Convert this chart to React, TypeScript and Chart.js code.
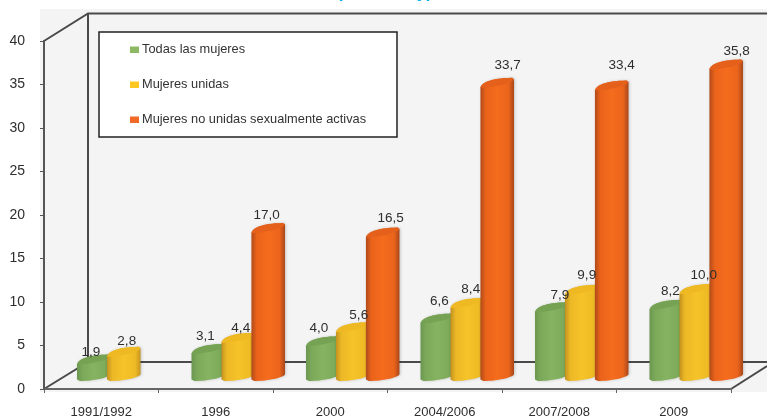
import React, { useEffect, useRef } from "react";
import { Chart, registerables } from "chart.js";

Chart.register(...registerables);

const categories = ["1991/1992", "1996", "2000", "2004/2006", "2007/2008", "2009"];
const todas = [1.9, 3.1, 4.0, 6.6, 7.9, 8.2];
const unidas = [2.8, 4.4, 5.6, 8.4, 9.9, 10.0];
const noUnidas = [null, 17.0, 16.5, 33.7, 33.4, 35.8];
const seriesNames = ["Todas las mujeres", "Mujeres unidas", "Mujeres no unidas sexualmente activas"];
const legendColors = ["#8db964", "#ffc722", "#f26a27"];

// label nudges relative to each bar's drawn position
const labelDx = [
  [-3, -3, -4, 2, 8, 4],
  [3, 2.5, 6, 3.5, 5, 7.5],
  [0, -1.5, 8, 10.5, 10, 10.5],
];
const labelDy = [
  [-20, -26, -26, -30, -25, -26],
  [-23, -22, -25, -27, -28, -27],
  [0, -26, -27.5, -31, -33, -26],
];

const FONT = "'Liberation Sans', Arial, sans-serif";
const FLOOR_DX = 22.5;
const FLOOR_DY = -13;
const WALL = { x: 88, top: 13.5, floor: 362 };

const gradients = [
  ["#6a9650", "#7ba959", "#86b361", "#7dab5a", "#668f4a"],
  ["#c3921f", "#ecb826", "#f6c329", "#efbb25", "#c6941f"],
  ["#b04a1a", "#ea631a", "#f56c1d", "#ea641b", "#a9471a"],
];
const capColors = ["#76a353", "#efb923", "#e4601b"];

function topEdge(ctx: CanvasRenderingContext2D, left: number, right: number, top: number) {
  const w = right - left;
  ctx.moveTo(left, top + 5);
  ctx.bezierCurveTo(left + 1, top + 0, left + w * 0.3, top - 4.5, right - 2, top - 5);
  ctx.lineTo(right, top - 3.5);
}

function drawCylinder(ctx: CanvasRenderingContext2D, el: any, series: number) {
  const w = el.width * 1.12;
  const left = el.x + FLOOR_DX - w / 2;
  const right = left + w;
  const top = el.y + FLOOR_DY;
  const base = el.base + FLOOR_DY;
  const g = ctx.createLinearGradient(left, 0, right, 0);
  const stops = gradients[series];
  [0, 0.16, 0.5, 0.84, 1].forEach((s, i) => g.addColorStop(s, stops[i]));

  ctx.save();
  ctx.shadowColor = "rgba(0,0,0,0.2)";
  ctx.shadowBlur = 3;
  ctx.shadowOffsetX = 1;
  ctx.beginPath();
  topEdge(ctx, left, right, top);
  ctx.lineTo(right, base - 1);
  ctx.bezierCurveTo(right - 2, base + 2, left + w * 0.5, base + 5.5, left + 3, base + 5.5);
  ctx.lineTo(left, base + 4);
  ctx.closePath();
  ctx.fillStyle = g;
  ctx.fill();
  ctx.restore();

  // top cap
  ctx.beginPath();
  topEdge(ctx, left, right, top);
  ctx.bezierCurveTo(right - 2, top + 0.5, left + w * 0.4, top + 5, left, top + 5);
  ctx.closePath();
  ctx.fillStyle = capColors[series];
  ctx.fill();
}

const scene = {
  id: "scene",
  beforeDraw(chart: any) {
    const { ctx, chartArea: a } = chart;
    ctx.save();
    ctx.fillStyle = "#f4f4f4";
    ctx.fillRect(40, 9, 727, 383);

    ctx.strokeStyle = "#4a4a4a";
    ctx.lineWidth = 2;
    ctx.beginPath();
    ctx.moveTo(a.left, a.top);
    ctx.lineTo(WALL.x, WALL.top);
    ctx.lineTo(767, WALL.top);
    ctx.moveTo(WALL.x, WALL.top);
    ctx.lineTo(WALL.x, WALL.floor);
    ctx.moveTo(a.left, a.bottom);
    ctx.lineTo(WALL.x, WALL.floor);
    ctx.lineTo(767, WALL.floor);
    ctx.moveTo(a.right, a.bottom);
    ctx.lineTo(767, 366);
    ctx.stroke();

    // title remnant clipped by the top edge of the picture
    ctx.fillStyle = "#00aeef";
    ctx.font = `bold 17px ${FONT}`;
    ctx.textBaseline = "alphabetic";
    ctx.fillText("(", 337, -2);
    ctx.fillText("y)", 417, -2);
    ctx.restore();
  },
  beforeDatasetDraw() {
    return false;
  },
  afterDatasetsDraw(chart: any) {
    const { ctx } = chart;
    chart.data.datasets.forEach((_: any, si: number) => {
      chart.getDatasetMeta(si).data.forEach((el: any, i: number) => {
        if (chart.data.datasets[si].data[i] != null) drawCylinder(ctx, el, si);
      });
    });
    ctx.save();
    ctx.fillStyle = "#2e2e2e";
    ctx.font = `13.5px ${FONT}`;
    ctx.textAlign = "center";
    ctx.textBaseline = "middle";
    chart.data.datasets.forEach((ds: any, si: number) => {
      chart.getDatasetMeta(si).data.forEach((el: any, i: number) => {
        const v = ds.data[i];
        if (v == null) return;
        ctx.fillText(v.toFixed(1).replace(".", ","), el.x + FLOOR_DX + labelDx[si][i], el.y + labelDy[si][i]);
      });
    });
    ctx.restore();

    // legend
    ctx.save();
    ctx.fillStyle = "#ffffff";
    ctx.strokeStyle = "#222222";
    ctx.lineWidth = 1.5;
    ctx.fillRect(99, 32, 298, 105);
    ctx.strokeRect(99, 32, 298, 105);
    ctx.font = `12.8px ${FONT}`;
    ctx.textAlign = "left";
    ctx.textBaseline = "middle";
    chart.data.datasets.forEach((ds: any, si: number) => {
      const y = 49.5 + si * 35;
      ctx.fillStyle = legendColors[si];
      ctx.fillRect(130, y - 3, 9, 6.5);
      ctx.fillStyle = "#333333";
      ctx.fillText(ds.label, 142, y);
    });
    ctx.restore();
  },
};

export default function App() {
  const ref = useRef<HTMLCanvasElement>(null);
  useEffect(() => {
    const chart = new Chart(ref.current!, {
      type: "bar",
      data: {
        labels: categories,
        datasets: [todas, unidas, noUnidas].map((data, i) => ({
          label: seriesNames[i],
          data,
          backgroundColor: legendColors[i],
          categoryPercentage: 0.785,
          barPercentage: 1,
        })),
      },
      options: {
        animation: false,
        responsive: false,
        layout: { padding: { top: 41, right: 36, left: 0, bottom: 0 } },
        plugins: { legend: { display: false }, tooltip: { enabled: false }, title: { display: false } },
        scales: {
          x: {
            afterFit(s: any) { s.height = 27; },
            border: { color: "#666666", width: 2 },
            grid: { drawOnChartArea: false, drawTicks: true, tickLength: 4, color: "#666666" },
            ticks: { color: "#2e2e2e", font: { family: FONT, size: 13 }, padding: 12, maxRotation: 0, autoSkip: false },
          },
          y: {
            min: 0,
            max: 40,
            afterFit(s: any) { s.width = 44; },
            border: { color: "#555555", width: 2 },
            grid: { drawOnChartArea: false, drawTicks: true, tickLength: 4, color: "#555555" },
            ticks: { stepSize: 5, color: "#2e2e2e", font: { family: FONT, size: 14 }, padding: 15 },
          },
        },
      },
      plugins: [scene],
    } as any);
    return () => chart.destroy();
  }, []);
  return (
    <div style={{ position: "fixed", left: 0, top: 0, width: 767, height: 416, background: "#fff" }}>
      <canvas ref={ref} width={767} height={416} style={{ display: "block" }} />
    </div>
  );
}
